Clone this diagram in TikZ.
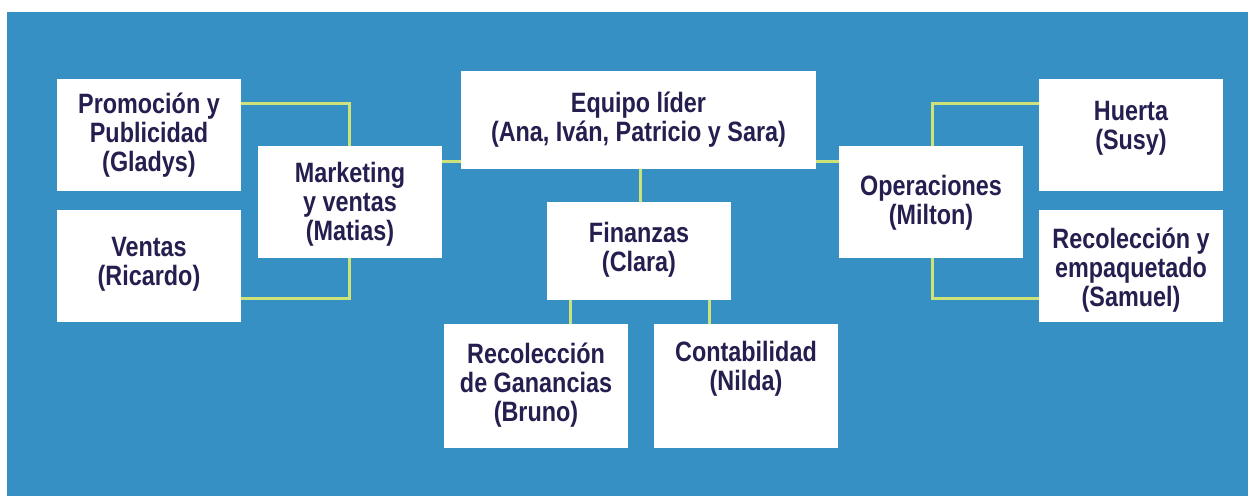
\documentclass[tikz,border=0pt]{standalone}
\usepackage{fontspec}
\newfontfamily\boxfont{Liberation Sans}[FakeStretch=0.835]
\definecolor{bgblue}{HTML}{3790C4}
\definecolor{linegreen}{HTML}{CDE37A}
\definecolor{navy}{HTML}{241F4F}
\tikzset{
  orgbox/.style={fill=white, draw=none, inner sep=0pt, minimum width=92pt, minimum height=56pt},
  orgtext/.style={text=navy, align=center, font=\boxfont\bfseries\fontsize{14pt}{14.5pt}\selectfont, inner sep=0pt},
  link/.style={draw=linegreen, line width=1.5pt}
}
\begin{document}
\begin{tikzpicture}[x=0.5pt,y=-0.5pt]
\useasboundingbox (0,0) rectangle (1248,496);
\fill[white] (0,0) rectangle (1248,496);
\fill[bgblue] (7,12) rectangle (1248,496);

% boxes
\node[orgbox] (prom) at (149,135) {};
\node[orgbox] (ventas) at (149,266) {};
\node[orgbox] (mkt) at (350,202) {};
\node[orgbox, minimum width=177.5pt, minimum height=49pt] (equipo) at (638.5,120) {};
\node[orgbox, minimum height=49pt] (fin) at (639,251) {};
\node[orgbox, minimum height=62pt] (rg) at (536,386) {};
\node[orgbox, minimum height=62pt] (cont) at (746,386) {};
\node[orgbox] (ops) at (931,202) {};
\node[orgbox] (huerta) at (1131,135) {};
\node[orgbox] (rye) at (1131,266) {};

% connectors
\coordinate (promc) at (349,104);
\coordinate (ventc) at (349,299);
\coordinate (huec) at (932,104);
\coordinate (ryec) at (932,299);
\draw[link] (prom.east |- promc) -- (promc) -- (promc |- mkt.north);
\draw[link] (ventas.east |- ventc) -- (ventc) -- (ventc |- mkt.south);
\draw[link] (mkt.east |- 0,162) -- (equipo.west |- 0,162);
\draw[link] (equipo.east |- 0,162) -- (ops.west |- 0,162);
\draw[link] (equipo.south -| 640,0) -- (fin.north -| 640,0);
\draw[link] (fin.south -| 570,0) -- (rg.north -| 570,0);
\draw[link] (fin.south -| 709,0) -- (cont.north -| 709,0);
\draw[link] (huerta.west |- huec) -- (huec) -- (huec |- ops.north);
\draw[link] (rye.west |- ryec) -- (ryec) -- (ryec |- ops.south);

% texts
\node[orgtext] (promt) at (149,135) {Promoción y\\Publicidad\\(Gladys)};
\node[orgtext] (ventast) at (149,264) {Ventas\\(Ricardo)};
\node[orgtext] (mktt) at (350,204) {Marketing\\y ventas\\(Matias)};
\node[orgtext] (equipot) at (638.5,120) {Equipo líder\\(Ana, Iván, Patricio y Sara)};
\node[orgtext] (fint) at (639,250) {Finanzas\\(Clara)};
\node[orgtext] (rgt) at (536,385) {Recolección\\de Ganancias\\(Bruno)};
\node[orgtext] (contt) at (746,369) {Contabilidad\\(Nilda)};
\node[orgtext] (opst) at (931,203) {Operaciones\\(Milton)};
\node[orgtext] (huertat) at (1131,128) {Huerta\\(Susy)};
\node[orgtext] (ryet) at (1131,270) {Recolección y\\empaquetado\\(Samuel)};
\end{tikzpicture}
\end{document}
